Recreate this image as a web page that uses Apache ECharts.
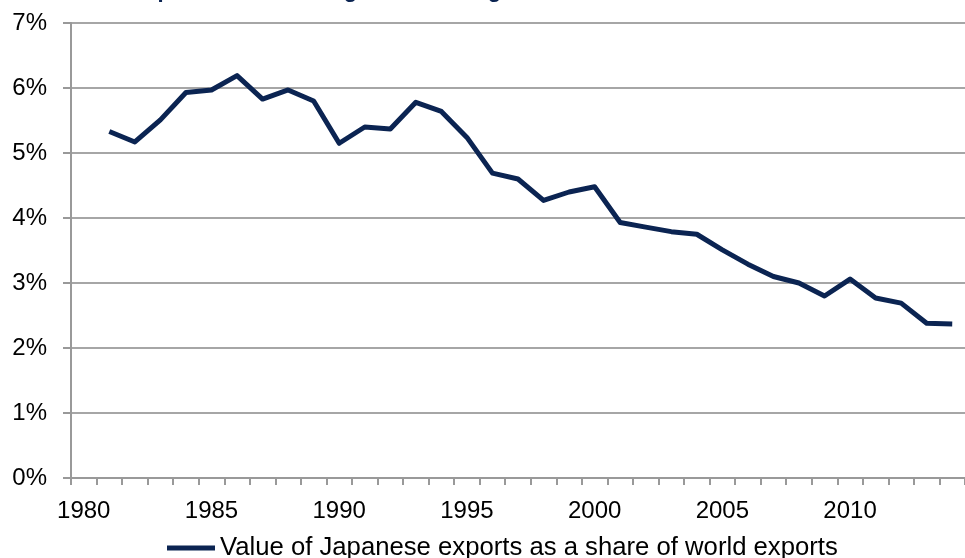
<!DOCTYPE html>
<html>
<head>
<meta charset="utf-8">
<script src="https://cdn.jsdelivr.net/npm/echarts@6/dist/echarts.min.js"></script>
<style>
  html, body { margin: 0; padding: 0; background: #fff; }
  #chart { width: 965px; height: 558px; }
</style>
</head>
<body>
<div id="chart"></div>
<script>
// years on the category axis
var years = [];
for (var y = 1980; y <= 2014; y++) years.push(String(y));

// Japanese exports as % of world exports (1980 has no value)
var shareValues = [null, 5.33, 5.17, 5.51, 5.93, 5.97, 6.19, 5.83, 5.97, 5.80,
                   5.15, 5.40, 5.37, 5.78, 5.64, 5.24, 4.69, 4.60, 4.27, 4.40,
                   4.48, 3.93, 3.86, 3.79, 3.75, 3.51, 3.29, 3.10, 3.00, 2.80,
                   3.06, 2.77, 2.69, 2.38, 2.37];

var seriesName = 'Value of Japanese exports as a share of world exports';
var titleText = "Japan's role is fading over the long term";
var navy = '#0b2452';

var chart = echarts.init(document.getElementById('chart'));
chart.setOption({
  animation: false,
  title: {
    text: titleText,
    left: 128,
    top: -25,
    textStyle: { fontFamily: 'Liberation Sans', fontSize: 22, fontWeight: 'bold', color: navy }
  },
  legend: {
    data: [seriesName],
    left: 162,
    top: 530,
    icon: 'rect',
    itemWidth: 48,
    itemHeight: 5,
    textStyle: { fontFamily: 'Liberation Sans', fontSize: 25.7, color: '#000' }
  },
  grid: { left: 71, top: 23, width: 907, bottom: 80, containLabel: false },
  xAxis: {
    type: 'category',
    data: years,
    boundaryGap: true,
    axisLine: { lineStyle: { color: '#999', width: 2 } },
    axisTick: { show: true, length: 7, interval: 0, lineStyle: { color: '#999', width: 2 } },
    axisLabel: { interval: 4, margin: 21, fontFamily: 'Liberation Sans', fontSize: 24, color: '#000' },
    splitLine: { show: false }
  },
  yAxis: {
    type: 'value',
    min: 0,
    max: 7,
    interval: 1,
    axisLine: { show: true, lineStyle: { color: '#999', width: 2 } },
    axisTick: { show: true, length: 8, lineStyle: { color: '#999', width: 2 } },
    axisLabel: { formatter: '{value}%', margin: 24, fontFamily: 'Liberation Sans', fontSize: 24, color: '#000' },
    splitLine: { lineStyle: { color: '#a6a6a6', width: 2 } }
  },
  series: [{
    name: seriesName,
    type: 'line',
    data: shareValues,
    showSymbol: false,
    symbol: 'none',
    color: navy,
    lineStyle: { color: navy, width: 5, join: 'round' }
  }]
});
</script>
</body>
</html>
